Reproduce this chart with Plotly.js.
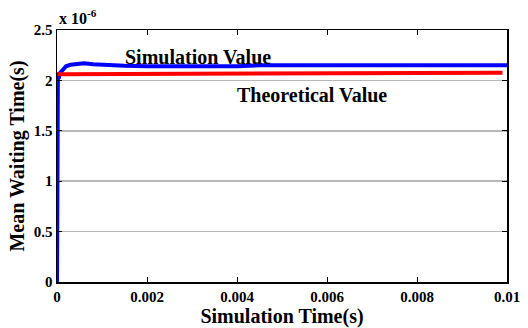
<!DOCTYPE html>
<html>
<head>
<meta charset="utf-8">
<script src="https://cdn.plot.ly/plotly-3.0.1.min.js"></script>
<style>html,body{margin:0;padding:0;background:#fff;}#chart{width:528px;height:328px;}</style>
</head>
<body>
<div id="chart"></div>
<script>
// Simulation time (s)
var simTime = [0, 0.000005, 0.00001, 0.00002, 0.00004, 0.00006, 0.0001, 0.00015, 0.0002, 0.0003, 0.0004, 0.0006, 0.0008, 0.001, 0.0015, 0.002, 0.003, 0.0035, 0.004, 0.0045, 0.005, 0.006, 0.007, 0.008, 0.009, 0.01];
// Simulated mean waiting time (x 1e-6 s)
var simValue = [0, 1.0, 1.9, 2.08, 2.02, 2.07, 2.09, 2.12, 2.14, 2.155, 2.16, 2.17, 2.16, 2.155, 2.145, 2.14, 2.14, 2.145, 2.14, 2.15, 2.15, 2.15, 2.15, 2.15, 2.15, 2.15];
// Theoretical mean waiting time
var theoTime = [0.00002, 0.002, 0.004, 0.006, 0.008, 0.0099];
var theoValue = [2.06, 2.063, 2.067, 2.07, 2.074, 2.077];
// Tick labels
var xTicks = [0, 0.002, 0.004, 0.006, 0.008, 0.01];
var xTickText = ['0', '0.002', '0.004', '0.006', '0.008', '0.01'];
var yTicks = [0, 0.5, 1, 1.5, 2, 2.5];
var yTickText = ['0', '0.5', '1', '1.5', '2', '2.5'];

var fam = 'Liberation Serif';
var data = [
  {x: simTime, y: simValue, mode: 'lines', line: {color: '#0000ff', width: 4}, name: 'Simulation Value'},
  {x: theoTime, y: theoValue, mode: 'lines', line: {color: '#ff0000', width: 4}, name: 'Theoretical Value'}
];
var layout = {
  width: 528, height: 328,
  margin: {l: 57, r: 21, t: 30, b: 46},
  paper_bgcolor: '#fff', plot_bgcolor: '#fff',
  showlegend: false,
  font: {family: fam, size: 15, color: '#000'},
  xaxis: {
    range: [0, 0.01], tickvals: xTicks,
    ticktext: xTickText.map(function(t){return '<b>' + t + '</b>';}),
    showgrid: false, zeroline: false, showline: true, linecolor: '#000', linewidth: 1.5,
    mirror: 'ticks', ticks: 'inside', ticklen: 5, tickcolor: '#000',
    tickfont: {family: fam, size: 15},
    title: {text: '<b>Simulation Time(s)</b>', font: {family: fam, size: 20}, standoff: 0}
  },
  yaxis: {
    range: [0, 2.5], tickvals: yTicks,
    ticktext: yTickText.map(function(t){return '<b>' + t + '</b>';}),
    showgrid: true, gridcolor: '#b8b8b8', gridwidth: 1.5, zeroline: false,
    showline: true, linecolor: '#000', linewidth: 1.5,
    mirror: 'ticks', ticks: 'inside', ticklen: 5, tickcolor: '#000',
    tickfont: {family: fam, size: 15},
    title: {text: '<b>Mean Waiting Time(s)</b>', font: {family: fam, size: 20}, standoff: 4}
  },
  annotations: [
    {text: '<b>Simulation Value</b>', x: 0.00313, y: 2.23, xref: 'x', yref: 'y', showarrow: false,
     font: {family: fam, size: 20}},
    {text: '<b>Theoretical Value</b>', x: 0.00567, y: 1.855, xref: 'x', yref: 'y', showarrow: false,
     font: {family: fam, size: 20}},
    {text: '<b>x 10<sup>-6</sup></b>', x: 0, y: 1, xref: 'paper', yref: 'paper', xanchor: 'left', yanchor: 'bottom',
     showarrow: false, yshift: 1, font: {family: fam, size: 16}}
  ]
};
Plotly.newPlot('chart', data, layout, {displayModeBar: false, staticPlot: true});
</script>
</body>
</html>
